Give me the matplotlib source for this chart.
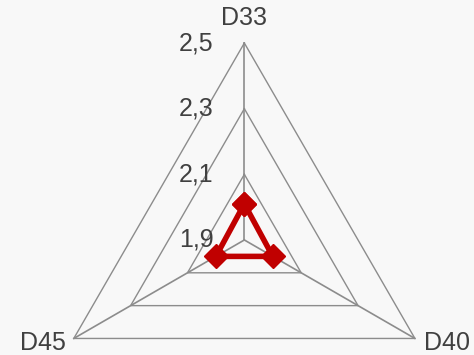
import numpy as np
import matplotlib
matplotlib.use('Agg')
import matplotlib.pyplot as plt
from matplotlib.transforms import offset_copy

categories = ['D33', 'D40', 'D45']
values = [2.01, 2.0, 2.0]
levels = [1.9, 2.1, 2.3, 2.5]
level_labels = ['1,9', '2,1', '2,3', '2,5']

bg = '#f8f8f8'
red = '#c00000'
grey = '#8c8c8c'
txt = '#404040'

plt.rcParams['font.family'] = ['Liberation Sans', 'DejaVu Sans']

fig = plt.figure(figsize=(4.74, 3.55), dpi=100, facecolor=bg)
ax = fig.add_axes([0.1, -0.231, 0.831, 1.11], projection='polar', facecolor=bg)
ax.set_theta_offset(np.pi / 2)
ax.set_theta_direction(-1)
ax.set_ylim(levels[0], levels[-1])

theta = np.linspace(0, 2 * np.pi, len(categories), endpoint=False)
theta_c = np.append(theta, theta[0])

# triangular grid
for lv in levels[1:]:
    ax.plot(theta_c, [lv] * len(theta_c), color=grey, lw=1, clip_on=False, zorder=1)
for t in theta:
    ax.plot([t, t], [levels[0], levels[-1]], color=grey, lw=1.2, clip_on=False, zorder=1)

vals = values + values[:1]
ax.plot(theta_c, vals, color=red, lw=4, marker='D', markersize=12.5,
        clip_on=False, zorder=3)

ax.grid(False)
ax.spines['polar'].set_visible(False)
ax.set_xticks([])
ax.set_yticks([])

# radial labels to the left of the top spoke
lab_tr = offset_copy(ax.transData, fig=fig, x=-31, y=0, units='dots')
for lv, lb in zip(levels, level_labels):
    ax.text(0, lv, lb, transform=lab_tr, ha='right', va='center',
            fontsize=18, color=txt, clip_on=False)

# category labels
offsets = [(0, 25, 'center', 'center'), (9, -5, 'left', 'center'), (-8, -5, 'right', 'center')]
for t, c, (dx, dy, ha, va) in zip(theta, categories, offsets):
    tr = offset_copy(ax.transData, fig=fig, x=dx, y=dy, units='dots')
    ax.text(t, levels[-1], c, transform=tr, ha=ha, va=va,
            fontsize=18, color=txt, clip_on=False)

fig.savefig('out.png', dpi=100, facecolor=bg)
